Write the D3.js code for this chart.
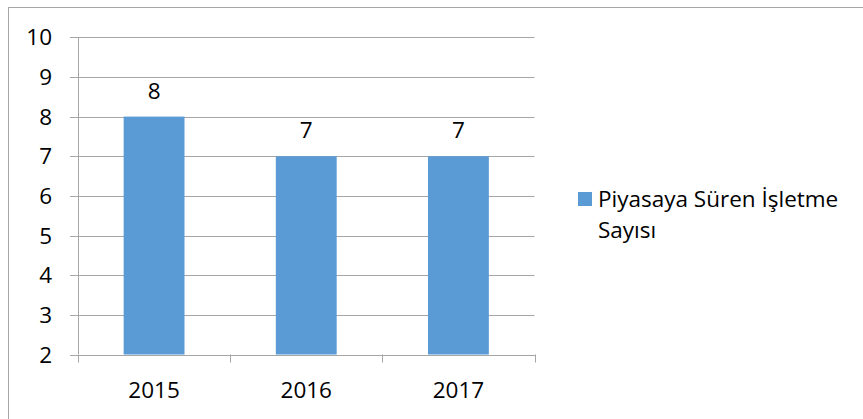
<!DOCTYPE html>
<html><head><meta charset="utf-8">
<script src="https://cdn.jsdelivr.net/npm/d3@7"></script>
<style>body{margin:0;background:#fff}svg{display:block}text{font-family:"Open Sans","Noto Sans",sans-serif;fill:#000}</style>
</head><body>
<svg id="c" width="863" height="419"></svg>
<script>
const categories = ["2015", "2016", "2017"];
const values = [8, 7, 7];
const yTicks = [2, 3, 4, 5, 6, 7, 8, 9, 10];
const seriesName = ["Piyasaya Süren İşletme", "Sayısı"];

(function () {
const svg = d3.select("#c");
const W = 863, H = 419;
svg.append("rect").attr("x", 8.5).attr("y", 7.5).attr("width", W).attr("height", H)
  .attr("fill", "#fff").attr("stroke", "#a6a6a6").attr("stroke-width", 1);

const pL = 78, pR = 534.5, pT = 37.3, pB = 354.5;
const x = d3.scaleBand().domain(categories).range([pL, pR]).paddingInner(0.6).paddingOuter(0.3);
const xb = d3.scaleBand().domain(categories).range([pL, pR]);
const y = d3.scaleLinear().domain([2, 10]).range([pB, pT]);

svg.append("g").selectAll("line").data(yTicks).join("line")
  .attr("x1", pL - 8).attr("x2", pR)
  .attr("y1", d => Math.round(y(d)) + 0.5).attr("y2", d => Math.round(y(d)) + 0.5)
  .attr("stroke", "#a6a6a6").attr("stroke-width", 1);

svg.append("line").attr("x1", pL + 0.5).attr("x2", pL + 0.5)
  .attr("y1", pT).attr("y2", pB).attr("stroke", "#a6a6a6");

svg.append("g").selectAll("rect").data(values).join("rect")
  .attr("x", (d, i) => x(categories[i]))
  .attr("width", x.bandwidth())
  .attr("y", d => y(d))
  .attr("height", d => y(2) - y(d))
  .attr("fill", "#5b9bd5");

const bounds = [pL].concat(categories.map(c => xb(c) + xb.bandwidth()));
svg.append("g").selectAll("line").data(bounds).join("line")
  .attr("x1", d => Math.round(d) + 0.5).attr("x2", d => Math.round(d) + 0.5)
  .attr("y1", pB).attr("y2", pB + 8).attr("stroke", "#a6a6a6");
svg.append("line").attr("x1", pL).attr("x2", pR + 0.5)
  .attr("y1", Math.round(pB) + 0.5).attr("y2", Math.round(pB) + 0.5).attr("stroke", "#a6a6a6");

const fs = 22.5;
svg.append("g").selectAll("text").data(yTicks).join("text")
  .attr("x", 52).attr("y", d => y(d)).attr("dy", "0.36em")
  .attr("text-anchor", "end").attr("font-size", fs).text(d => d);

svg.append("g").selectAll("text").data(categories).join("text")
  .attr("x", d => xb(d) + xb.bandwidth() / 2).attr("y", 398)
  .attr("text-anchor", "middle").attr("font-size", fs).text(d => d);

svg.append("g").selectAll("text").data(values).join("text")
  .attr("x", (d, i) => x(categories[i]) + x.bandwidth() / 2).attr("y", d => y(d) - 18)
  .attr("text-anchor", "middle").attr("font-size", fs).text(d => d);

svg.append("rect").attr("x", 578).attr("y", 192).attr("width", 14).attr("height", 14).attr("fill", "#5b9bd5");
svg.append("g").selectAll("text").data(seriesName).join("text")
  .attr("x", 598).attr("y", (d, i) => 207 + i * 31)
  .attr("font-size", 22.5).text(d => d);
})();
</script>
</body></html>
